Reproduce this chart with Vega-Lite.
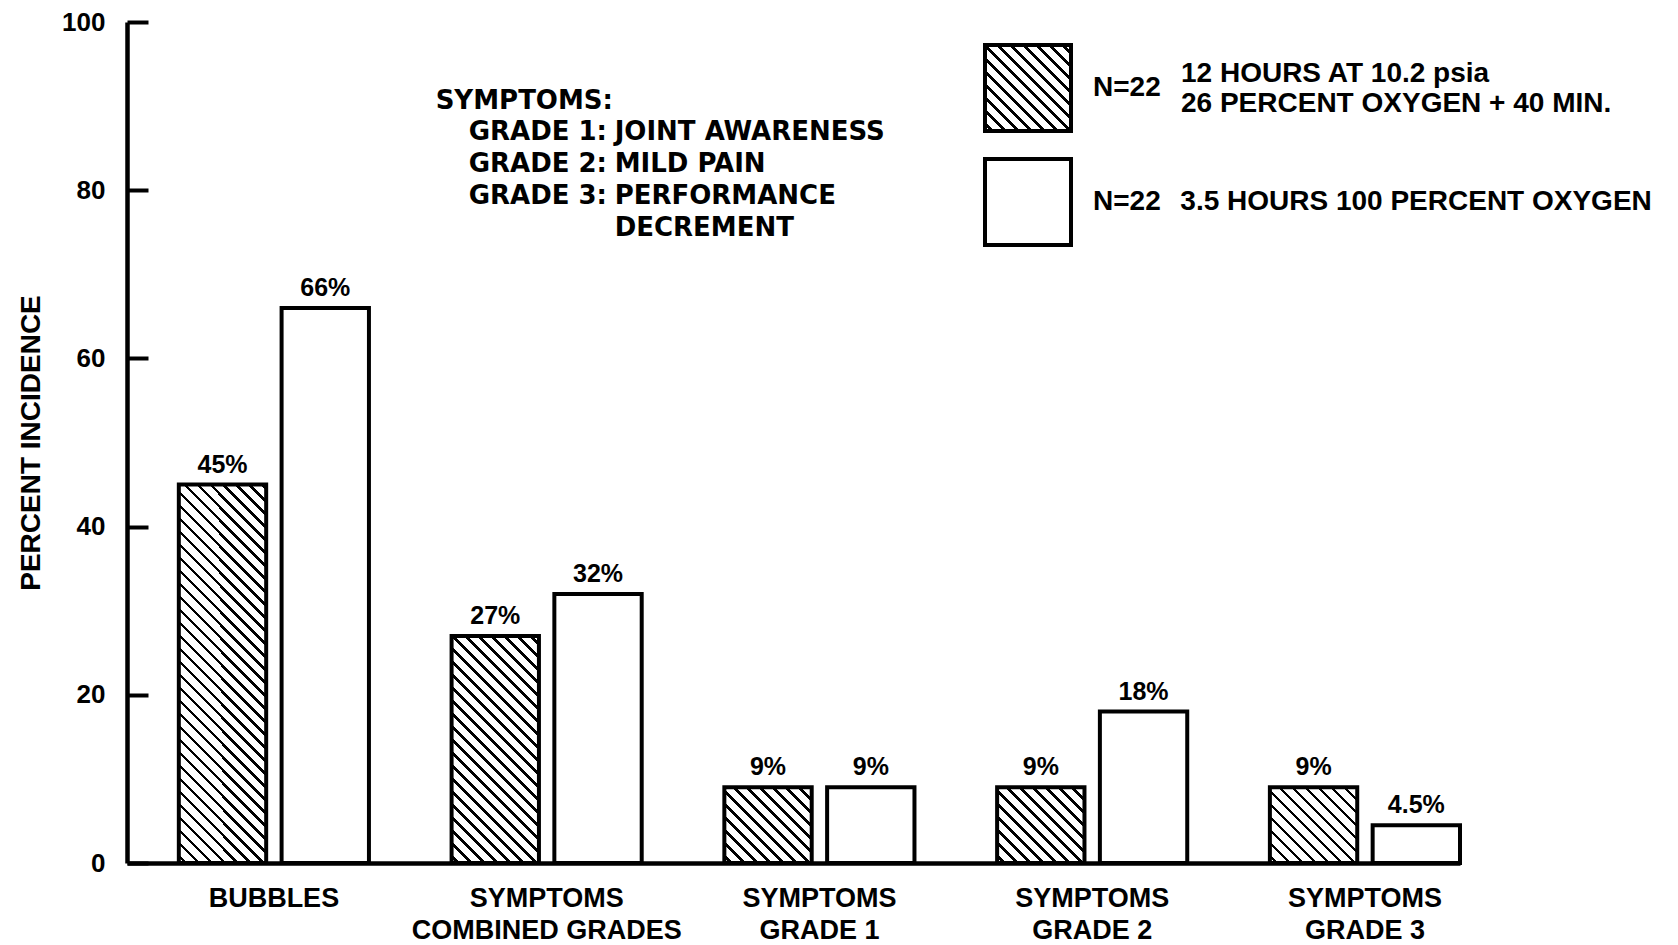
{
"$schema":"https://vega.github.io/schema/vega-lite/v6.json",
"width":1333,"height":841,
"autosize":{"type":"none"},
"padding":{"left":127,"top":22,"right":218,"bottom":82},
"background":"white",
"config":{"view":{"stroke":null},"font":"Liberation Sans"},
"params":[{"name":"hatch","value":{"gradient":"linear","stops":[
{"offset":0,"color":"#fff"},
{"offset":0.01,"color":"#fff"},{"offset":0.01,"color":"#000"},{"offset":0.0175,"color":"#000"},{"offset":0.0175,"color":"#fff"},
{"offset":0.035,"color":"#fff"},{"offset":0.035,"color":"#000"},{"offset":0.0425,"color":"#000"},{"offset":0.0425,"color":"#fff"},
{"offset":0.06,"color":"#fff"},{"offset":0.06,"color":"#000"},{"offset":0.0675,"color":"#000"},{"offset":0.0675,"color":"#fff"},
{"offset":0.085,"color":"#fff"},{"offset":0.085,"color":"#000"},{"offset":0.0925,"color":"#000"},{"offset":0.0925,"color":"#fff"},
{"offset":0.11,"color":"#fff"},{"offset":0.11,"color":"#000"},{"offset":0.1175,"color":"#000"},{"offset":0.1175,"color":"#fff"},
{"offset":0.135,"color":"#fff"},{"offset":0.135,"color":"#000"},{"offset":0.1425,"color":"#000"},{"offset":0.1425,"color":"#fff"},
{"offset":0.16,"color":"#fff"},{"offset":0.16,"color":"#000"},{"offset":0.1675,"color":"#000"},{"offset":0.1675,"color":"#fff"},
{"offset":0.185,"color":"#fff"},{"offset":0.185,"color":"#000"},{"offset":0.1925,"color":"#000"},{"offset":0.1925,"color":"#fff"},
{"offset":0.21,"color":"#fff"},{"offset":0.21,"color":"#000"},{"offset":0.2175,"color":"#000"},{"offset":0.2175,"color":"#fff"},
{"offset":0.235,"color":"#fff"},{"offset":0.235,"color":"#000"},{"offset":0.2425,"color":"#000"},{"offset":0.2425,"color":"#fff"},
{"offset":0.26,"color":"#fff"},{"offset":0.26,"color":"#000"},{"offset":0.2675,"color":"#000"},{"offset":0.2675,"color":"#fff"},
{"offset":0.285,"color":"#fff"},{"offset":0.285,"color":"#000"},{"offset":0.2925,"color":"#000"},{"offset":0.2925,"color":"#fff"},
{"offset":0.31,"color":"#fff"},{"offset":0.31,"color":"#000"},{"offset":0.3175,"color":"#000"},{"offset":0.3175,"color":"#fff"},
{"offset":0.335,"color":"#fff"},{"offset":0.335,"color":"#000"},{"offset":0.3425,"color":"#000"},{"offset":0.3425,"color":"#fff"},
{"offset":0.36,"color":"#fff"},{"offset":0.36,"color":"#000"},{"offset":0.3675,"color":"#000"},{"offset":0.3675,"color":"#fff"},
{"offset":0.385,"color":"#fff"},{"offset":0.385,"color":"#000"},{"offset":0.3925,"color":"#000"},{"offset":0.3925,"color":"#fff"},
{"offset":0.41,"color":"#fff"},{"offset":0.41,"color":"#000"},{"offset":0.4175,"color":"#000"},{"offset":0.4175,"color":"#fff"},
{"offset":0.435,"color":"#fff"},{"offset":0.435,"color":"#000"},{"offset":0.4425,"color":"#000"},{"offset":0.4425,"color":"#fff"},
{"offset":0.46,"color":"#fff"},{"offset":0.46,"color":"#000"},{"offset":0.4675,"color":"#000"},{"offset":0.4675,"color":"#fff"},
{"offset":0.485,"color":"#fff"},{"offset":0.485,"color":"#000"},{"offset":0.4925,"color":"#000"},{"offset":0.4925,"color":"#fff"},
{"offset":0.51,"color":"#fff"},{"offset":0.51,"color":"#000"},{"offset":0.5175,"color":"#000"},{"offset":0.5175,"color":"#fff"},
{"offset":0.535,"color":"#fff"},{"offset":0.535,"color":"#000"},{"offset":0.5425,"color":"#000"},{"offset":0.5425,"color":"#fff"},
{"offset":0.56,"color":"#fff"},{"offset":0.56,"color":"#000"},{"offset":0.5675,"color":"#000"},{"offset":0.5675,"color":"#fff"},
{"offset":0.585,"color":"#fff"},{"offset":0.585,"color":"#000"},{"offset":0.5925,"color":"#000"},{"offset":0.5925,"color":"#fff"},
{"offset":0.61,"color":"#fff"},{"offset":0.61,"color":"#000"},{"offset":0.6175,"color":"#000"},{"offset":0.6175,"color":"#fff"},
{"offset":0.635,"color":"#fff"},{"offset":0.635,"color":"#000"},{"offset":0.6425,"color":"#000"},{"offset":0.6425,"color":"#fff"},
{"offset":0.66,"color":"#fff"},{"offset":0.66,"color":"#000"},{"offset":0.6675,"color":"#000"},{"offset":0.6675,"color":"#fff"},
{"offset":0.685,"color":"#fff"},{"offset":0.685,"color":"#000"},{"offset":0.6925,"color":"#000"},{"offset":0.6925,"color":"#fff"},
{"offset":0.71,"color":"#fff"},{"offset":0.71,"color":"#000"},{"offset":0.7175,"color":"#000"},{"offset":0.7175,"color":"#fff"},
{"offset":0.735,"color":"#fff"},{"offset":0.735,"color":"#000"},{"offset":0.7425,"color":"#000"},{"offset":0.7425,"color":"#fff"},
{"offset":0.76,"color":"#fff"},{"offset":0.76,"color":"#000"},{"offset":0.7675,"color":"#000"},{"offset":0.7675,"color":"#fff"},
{"offset":0.785,"color":"#fff"},{"offset":0.785,"color":"#000"},{"offset":0.7925,"color":"#000"},{"offset":0.7925,"color":"#fff"},
{"offset":0.81,"color":"#fff"},{"offset":0.81,"color":"#000"},{"offset":0.8175,"color":"#000"},{"offset":0.8175,"color":"#fff"},
{"offset":0.835,"color":"#fff"},{"offset":0.835,"color":"#000"},{"offset":0.8425,"color":"#000"},{"offset":0.8425,"color":"#fff"},
{"offset":0.86,"color":"#fff"},{"offset":0.86,"color":"#000"},{"offset":0.8675,"color":"#000"},{"offset":0.8675,"color":"#fff"},
{"offset":0.885,"color":"#fff"},{"offset":0.885,"color":"#000"},{"offset":0.8925,"color":"#000"},{"offset":0.8925,"color":"#fff"},
{"offset":0.91,"color":"#fff"},{"offset":0.91,"color":"#000"},{"offset":0.9175,"color":"#000"},{"offset":0.9175,"color":"#fff"},
{"offset":0.935,"color":"#fff"},{"offset":0.935,"color":"#000"},{"offset":0.9425,"color":"#000"},{"offset":0.9425,"color":"#fff"},
{"offset":0.96,"color":"#fff"},{"offset":0.96,"color":"#000"},{"offset":0.9675,"color":"#000"},{"offset":0.9675,"color":"#fff"},
{"offset":0.985,"color":"#fff"},{"offset":0.985,"color":"#000"},{"offset":0.9925,"color":"#000"},{"offset":0.9925,"color":"#fff"},
{"offset":1,"color":"#fff"}
]}}],
"data":{"values":[
{"cat":"BUBBLES","series":"A","cond":"12 HOURS AT 10.2 psia, 26 PERCENT OXYGEN + 40 MIN.","pct":45,"label":"45%"},
{"cat":"BUBBLES","series":"B","cond":"3.5 HOURS 100 PERCENT OXYGEN","pct":66,"label":"66%"},
{"cat":"SYMPTOMS COMBINED GRADES","series":"A","cond":"12 HOURS AT 10.2 psia, 26 PERCENT OXYGEN + 40 MIN.","pct":27,"label":"27%"},
{"cat":"SYMPTOMS COMBINED GRADES","series":"B","cond":"3.5 HOURS 100 PERCENT OXYGEN","pct":32,"label":"32%"},
{"cat":"SYMPTOMS GRADE 1","series":"A","cond":"12 HOURS AT 10.2 psia, 26 PERCENT OXYGEN + 40 MIN.","pct":9,"label":"9%"},
{"cat":"SYMPTOMS GRADE 1","series":"B","cond":"3.5 HOURS 100 PERCENT OXYGEN","pct":9,"label":"9%"},
{"cat":"SYMPTOMS GRADE 2","series":"A","cond":"12 HOURS AT 10.2 psia, 26 PERCENT OXYGEN + 40 MIN.","pct":9,"label":"9%"},
{"cat":"SYMPTOMS GRADE 2","series":"B","cond":"3.5 HOURS 100 PERCENT OXYGEN","pct":18,"label":"18%"},
{"cat":"SYMPTOMS GRADE 3","series":"A","cond":"12 HOURS AT 10.2 psia, 26 PERCENT OXYGEN + 40 MIN.","pct":9,"label":"9%"},
{"cat":"SYMPTOMS GRADE 3","series":"B","cond":"3.5 HOURS 100 PERCENT OXYGEN","pct":4.5,"label":"4.5%"}
]},
"layer":[
{
"mark":{"type":"bar","stroke":"#000","strokeWidth":4},
"encoding":{
"x":{"field":"cat","type":"nominal","sort":null,
 "scale":{"paddingInner":0.303,"paddingOuter":0.095,"align":1},
 "axis":{"title":null,"ticks":false,"domainColor":"#000","domainWidth":4.5,"labelAngle":0,"labelPadding":22,
  "labelFont":"Liberation Sans","labelFontWeight":"bold","labelFontSize":27,"labelColor":"#000","labelBaseline":"top","labelLineHeight":32,"labelLimit":0,
  "labelExpr":"datum.value == 'BUBBLES' ? 'BUBBLES' : ['SYMPTOMS', substring(datum.value, 9)]"}},
"xOffset":{"field":"series","type":"nominal","scale":{"paddingInner":0.15,"paddingOuter":0}},
"y":{"field":"pct","type":"quantitative","scale":{"domain":[0,100],"nice":false},
 "axis":{"title":"PERCENT INCIDENCE","values":[0,20,40,60,80,100],"grid":false,"tickSize":-21,"tickWidth":4,"tickColor":"#000",
  "domainColor":"#000","domainWidth":4.5,"labelPadding":43,"labelFont":"Liberation Sans","labelFontWeight":"bold","labelFontSize":26,"labelColor":"#000",
  "titleFont":"Liberation Sans","titleFontWeight":"bold","titleFontSize":28,"titleColor":"#000","titlePadding":16}},
"fill":{"field":"cond","type":"nominal",
 "scale":{"range":[{"expr":"merge(hatch, {x1: 0, y1: 1, x2: 3.023256, y2: -2.023256})"},"#fff"]},
 "condition":{"test":"datum.series === 'A'","value":{"expr":"merge(hatch, datum.pct > 40 ? {x1: 0, y1: 1, x2: 0.301251, y2: -0.304444} : datum.pct > 20 ? {x1: 0, y1: 1, x2: 0.767708, y2: -0.994548} : {x1: 0, y1: 1, x2: 3.399826, y2: -1.944311})"}},
 "legend":{"orient":"none","legendX":856,"legendY":21,"title":null,"padding":0,"symbolType":"square","symbolSize":7396,
  "symbolStrokeColor":"#000","symbolStrokeWidth":4,"symbolOpacity":1,"rowPadding":12,"labelOffset":20,
  "labelExpr":"indexof(datum.value, '3.5') === 0 ? 'N=22\u2002\u2009' + datum.value : 'N=22'",
  "labelFont":"Liberation Sans","labelFontWeight":"bold","labelFontSize":28,"labelColor":"#000","labelLimit":0}},
"strokeDash":{"field":"series","type":"nominal","scale":{"range":[[1,0],[1,0]]},
 "legend":{"orient":"none","legendX":960,"legendY":21,"title":null,"padding":0,"symbolType":"square","symbolSize":7396,"symbolStrokeWidth":4,
  "symbolOpacity":0,"rowPadding":12,"labelOffset":4,"labelLimit":0,"labelBaseline":"bottom",
  "labelExpr":"datum.value === 'A' ? ['12 HOURS AT 10.2 psia', '26 PERCENT OXYGEN + 40 MIN.'] : ''",
  "labelFont":"Liberation Sans","labelFontWeight":"bold","labelFontSize":28,"labelColor":"#000"}}
}
},
{
"mark":{"type":"text","font":"Liberation Sans","fontWeight":"bold","fontSize":25,"baseline":"alphabetic","dy":-12,"color":"#000"},
"encoding":{
"x":{"field":"cat","type":"nominal","sort":null},
"xOffset":{"field":"series","type":"nominal"},
"y":{"field":"pct","type":"quantitative"},
"text":{"field":"label"}
}
},
{
"data":{"values":[{}]},
"mark":{"type":"text","text":"SYMPTOMS:","font":"DejaVu Sans","fontWeight":"bold","fontSize":26,"align":"left","baseline":"alphabetic","dx":-111,"color":"#000"},
"encoding":{"x":{"datum":"SYMPTOMS COMBINED GRADES","type":"nominal"},"y":{"datum":89.66,"type":"quantitative"}}
},
{
"data":{"values":[{}]},
"mark":{"type":"text","text":["GRADE 1:","GRADE 2:","GRADE 3:"],"lineHeight":32,"font":"DejaVu Sans","fontWeight":"bold","fontSize":26,"align":"left","baseline":"alphabetic","dx":-78,"color":"#000"},
"encoding":{"x":{"datum":"SYMPTOMS COMBINED GRADES","type":"nominal"},"y":{"datum":86,"type":"quantitative"}}
},
{
"data":{"values":[{}]},
"mark":{"type":"text","text":["JOINT AWARENESS","MILD PAIN","PERFORMANCE","DECREMENT"],"lineHeight":32,"font":"DejaVu Sans","fontWeight":"bold","fontSize":26,"align":"left","baseline":"alphabetic","dx":68,"color":"#000"},
"encoding":{"x":{"datum":"SYMPTOMS COMBINED GRADES","type":"nominal"},"y":{"datum":86,"type":"quantitative"}}
}
]
}
